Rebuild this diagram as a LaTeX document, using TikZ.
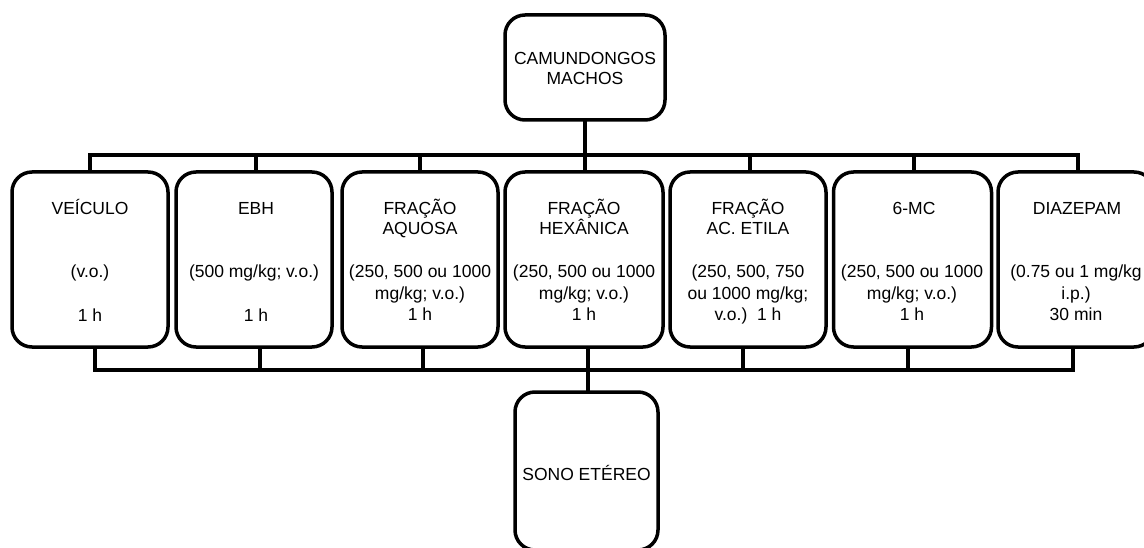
\documentclass[tikz,border=0pt]{standalone}
\usepackage{fontspec}
\setmainfont{Liberation Sans}
\begin{document}
\begin{tikzpicture}[x=1pt,y=-1pt,
  box/.style={draw, line width=3.5pt, rounded corners=20pt, minimum width=156pt, minimum height=175pt, inner sep=0pt},
  wire/.style={line width=3.5pt, line cap=rect},
  txt/.style={font=\fontsize{17.5}{20.5}\selectfont, inner sep=0pt, anchor=base}]
\clip (0,0) rectangle (1144,548);
\fill[white] (0,0) rectangle (1144,548);
% boxes
\node[box, minimum width=160pt, minimum height=105pt] (top) at (585,67.5) {};
\node[box] (b1) at (90,259.5) {};
\node[box] (b2) at (254,259.5) {};
\node[box] (b3) at (420,259.5) {};
\node[box, minimum width=158pt] (b4) at (584,259.5) {};
\node[box] (b5) at (748,259.5) {};
\node[box, minimum width=158pt] (b6) at (912.5,259.5) {};
\node[box] (b7) at (1076,259.5) {};
\node[box, minimum width=143pt, minimum height=158pt] (bot) at (586.5,471) {};
% texts
\node[txt] (ta1) at (585,65) {CAMUNDONGOS};
\node[txt] (ta2) at (585,85) {MACHOS};
\node[txt] (t1a) at (90,215) {VEÍCULO};
\node[txt] (t1b) at (90,278) {(v.o.)};
\node[txt] (t1c) at (90,321) {1 h};
\node[txt] (t2a) at (256,215) {EBH};
\node[txt] (t2b) at (254,278) {(500 mg/kg; v.o.)};
\node[txt] (t2c) at (256,321) {1 h};
\node[txt] (t3a) at (420,215) {FRAÇÃO};
\node[txt] (t3b) at (420,235) {AQUOSA};
\node[txt] (t3c) at (420,278) {(250, 500 ou 1000};
\node[txt] (t3d) at (420,299) {mg/kg; v.o.)};
\node[txt] (t3e) at (420,320) {1 h};
\node[txt] (t4a) at (584,215) {FRAÇÃO};
\node[txt] (t4b) at (584,235) {HEXÂNICA};
\node[txt] (t4c) at (584,278) {(250, 500 ou 1000};
\node[txt] (t4d) at (584,299) {mg/kg; v.o.)};
\node[txt] (t4e) at (584,320) {1 h};
\node[txt] (t5a) at (748,215) {FRAÇÃO};
\node[txt] (t5b) at (748,235) {AC. ETILA};
\node[txt] (t5c) at (748,278) {(250, 500, 750};
\node[txt] (t5d) at (748,299) {ou 1000 mg/kg;};
\node[txt] (t5e) at (748,320) {v.o.)\ \ 1 h};
\node[txt] (t6a) at (914,215) {6-MC};
\node[txt] (t6b) at (912,278) {(250, 500 ou 1000};
\node[txt] (t6c) at (912,299) {mg/kg; v.o.)};
\node[txt] (t6d) at (912,320) {1 h};
\node[txt] (t7a) at (1077,215) {DIAZEPAM};
\node[txt] (t7b) at (1076,278) {(0.75 ou 1 mg/kg};
\node[txt] (t7c) at (1076,299) {i.p.)};
\node[txt] (t7d) at (1076,320) {30 min};
\node[txt] (t8) at (586.5,480) {SONO ETÉREO};
% top bus
\coordinate (tl) at (90,155);
\coordinate (tr) at (1078,155);
\draw[wire] (top.south) -- (top.south |- tl);
\draw[wire] (tl) -- (tr);
\foreach \b/\dx in {b1/0,b2/2,b3/0,b4/1,b5/2,b6/1.5,b7/2}
  \draw[wire] ([xshift=\dx pt]\b.north) -- ([xshift=\dx pt]\b.north |- tl);
% bottom bus
\coordinate (bl) at (95,370);
\coordinate (br) at (1073,370);
\draw[wire] (bl) -- (br);
\foreach \b/\dx in {b1/5,b2/6,b3/3,b4/4,b5/-5,b6/-4.5,b7/-3}
  \draw[wire] ([xshift=\dx pt]\b.south) -- ([xshift=\dx pt]\b.south |- bl);
\draw[wire] ([xshift=1.5pt]bot.north) -- ([xshift=1.5pt]bot.north |- bl);
\end{tikzpicture}
\end{document}
